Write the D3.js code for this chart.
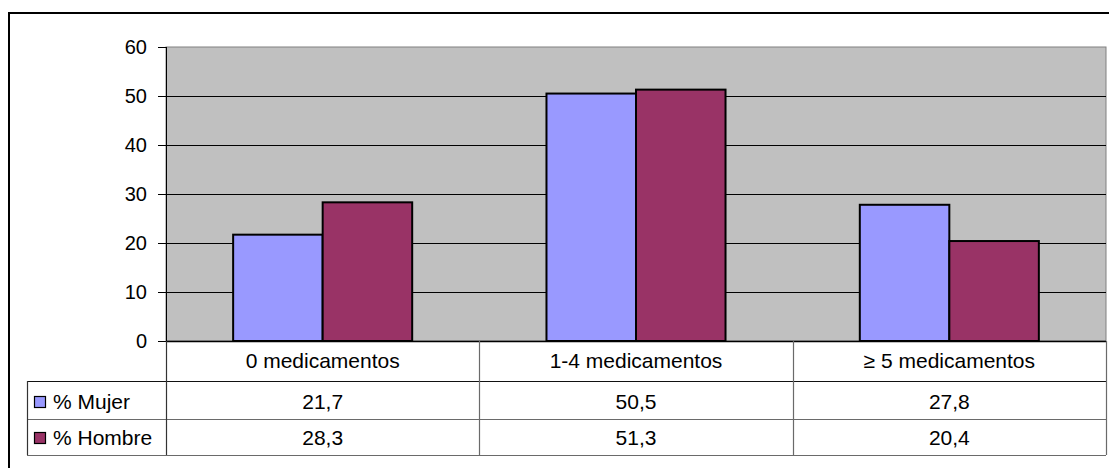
<!DOCTYPE html>
<html>
<head>
<meta charset="utf-8">
<script src="https://cdn.jsdelivr.net/npm/d3@7"></script>
<style>
  html, body { margin: 0; padding: 0; background: #fff; }
  svg { display: block; }
  text { font-family: "Liberation Sans", Arial, sans-serif; fill: #000; }
</style>
</head>
<body>
<svg id="chart" width="1109" height="468"></svg>
<script>
// Medication count distribution by sex (%)
const categories = ["0 medicamentos", "1-4 medicamentos", "\u2265 5 medicamentos"];
const seriesNames = ["% Mujer", "% Hombre"];
const mujer = [21.7, 50.5, 27.8];
const hombre = [28.3, 51.3, 20.4];
const yTicks = [0, 10, 20, 30, 40, 50, 60];
const colors = ["#9999FF", "#993366"];

const seriesValues = [mujer, hombre];
const fmt = v => String(v).replace(".", ",");

const svg = d3.select("#chart");

// Plot frame
const plot = { left: 166, top: 47, right: 1106, bottom: 341 };
const rowY = [341, 381, 419, 455]; // data table row boundaries
const tableLeft = 27;

// Outer chart border
svg.append("rect")
  .attr("x", 9).attr("y", 13)
  .attr("width", 1300).attr("height", 700)
  .attr("fill", "none").attr("stroke", "#000").attr("stroke-width", 2);

const x0 = d3.scaleBand().domain(categories).range([plot.left, plot.right]).padding(0);
const x1 = d3.scaleBand().domain(seriesNames).range([0, x0.bandwidth()])
  .paddingInner(0).paddingOuter(0.75);
const y = d3.scaleLinear().domain([0, 60]).range([plot.bottom, plot.top]);

// Plot area background
svg.append("rect")
  .attr("x", plot.left).attr("y", plot.top)
  .attr("width", plot.right - plot.left).attr("height", plot.bottom - plot.top)
  .attr("fill", "#C0C0C0").attr("stroke", "#808080").attr("stroke-width", 1);

// Horizontal gridlines
svg.append("g").selectAll("line")
  .data(yTicks.filter(t => t > 0 && t < 60))
  .join("line")
  .attr("x1", plot.left).attr("x2", plot.right)
  .attr("y1", d => Math.round(y(d)) + 0.5).attr("y2", d => Math.round(y(d)) + 0.5)
  .attr("stroke", "#000").attr("stroke-width", 1);

// Bars
const groups = svg.append("g").selectAll("g")
  .data(seriesNames)
  .join("g")
  .attr("fill", (d, i) => colors[i]);

groups.selectAll("rect")
  .data((s, si) => categories.map((c, ci) => ({ c, s, v: seriesValues[si][ci] })))
  .join("rect")
  .attr("x", d => x0(d.c) + x1(d.s))
  .attr("y", d => y(d.v))
  .attr("width", x1.bandwidth())
  .attr("height", d => y(0) - y(d.v))
  .attr("stroke", "#000").attr("stroke-width", 2);

// Y axis
const yAxis = d3.axisLeft(y).tickValues(yTicks).tickSize(8).tickPadding(11)
  .tickFormat(d3.format("d"));
const gy = svg.append("g").attr("transform", `translate(${plot.left},0)`).call(yAxis);
gy.select(".domain").attr("stroke", "#000").attr("d", `M0.5,${plot.top}V${plot.bottom}`);
gy.selectAll(".tick line").attr("stroke", "#000");
gy.selectAll(".tick text")
  .style("font-family", "'Liberation Sans', Arial, sans-serif")
  .style("font-size", "20px").attr("fill", "#000");

// X axis baseline
svg.append("line")
  .attr("x1", plot.left).attr("x2", plot.right)
  .attr("y1", plot.bottom + 0.5).attr("y2", plot.bottom + 0.5)
  .attr("stroke", "#000").attr("stroke-width", 1.5);

// Data table
const table = svg.append("g");
// horizontal rules
table.append("line")
  .attr("x1", tableLeft).attr("x2", plot.right)
  .attr("y1", rowY[1] + 0.5).attr("y2", rowY[1] + 0.5)
  .attr("stroke", "#111").attr("stroke-width", 1.2);
table.append("line")
  .attr("x1", tableLeft).attr("x2", plot.right)
  .attr("y1", rowY[2] + 0.5).attr("y2", rowY[2] + 0.5)
  .attr("stroke", "#6a6a6a").attr("stroke-width", 1.2);
table.append("line")
  .attr("x1", tableLeft).attr("x2", plot.right)
  .attr("y1", rowY[3] + 0.5).attr("y2", rowY[3] + 0.5)
  .attr("stroke", "#6a6a6a").attr("stroke-width", 1.2);
// vertical rules
table.append("line")
  .attr("x1", tableLeft + 0.5).attr("x2", tableLeft + 0.5)
  .attr("y1", rowY[1]).attr("y2", rowY[3])
  .attr("stroke", "#333").attr("stroke-width", 1.2);
table.append("line")
  .attr("x1", plot.left + 0.5).attr("x2", plot.left + 0.5)
  .attr("y1", rowY[0]).attr("y2", rowY[3])
  .attr("stroke", "#333").attr("stroke-width", 1.2);
table.selectAll("line.col")
  .data(categories)
  .join("line")
  .attr("class", "col")
  .attr("x1", d => Math.round(x0(d) + x0.bandwidth()) + 0.5)
  .attr("x2", d => Math.round(x0(d) + x0.bandwidth()) + 0.5)
  .attr("y1", rowY[0]).attr("y2", rowY[3])
  .attr("stroke", "#6a6a6a").attr("stroke-width", 1.2);

// category labels
table.selectAll("text.cat")
  .data(categories)
  .join("text")
  .attr("class", "cat")
  .attr("x", d => x0(d) + x0.bandwidth() / 2)
  .attr("y", 368)
  .attr("text-anchor", "middle")
  .style("font-size", "21px")
  .text(d => d);

// series rows
const rowBase = [409, 445];
seriesNames.forEach((s, si) => {
  const row = table.append("g");
  row.append("rect")
    .attr("x", 34.5).attr("y", rowBase[si] - 12.5)
    .attr("width", 11).attr("height", 11)
    .attr("fill", colors[si]).attr("stroke", "#000").attr("stroke-width", 1.2);
  row.append("text")
    .attr("x", 53).attr("y", rowBase[si])
    .style("font-size", "21px")
    .text(s);
  row.selectAll("text.val")
    .data(categories)
    .join("text")
    .attr("class", "val")
    .attr("x", d => x0(d) + x0.bandwidth() / 2)
    .attr("y", rowBase[si])
    .attr("text-anchor", "middle")
    .style("font-size", "21px")
    .text((d, ci) => fmt(seriesValues[si][ci]));
});
</script>
</body>
</html>
